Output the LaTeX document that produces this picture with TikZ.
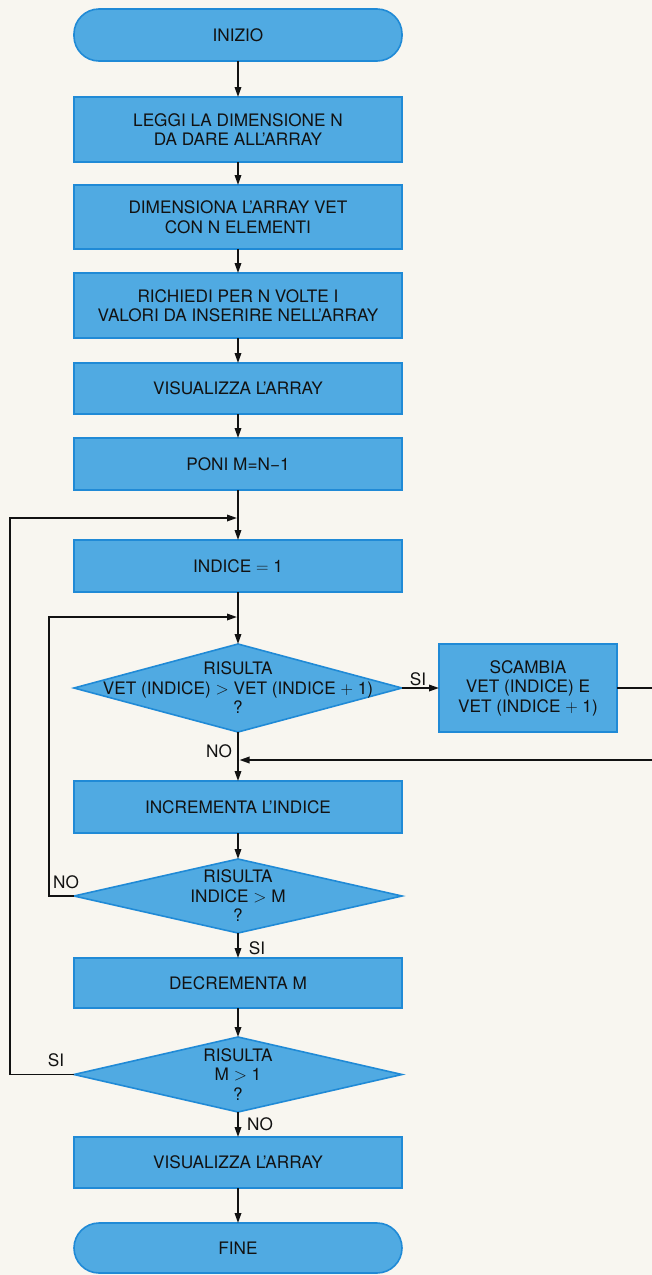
\documentclass[tikz,border=0pt]{standalone}
\usepackage{fontspec}
\setmainfont{TeX Gyre Heros}
\usetikzlibrary{shapes.geometric,arrows.meta}
\definecolor{paper}{RGB}{248,246,240}
\definecolor{boxfill}{RGB}{80,170,226}
\definecolor{boxline}{RGB}{32,138,214}
\definecolor{ink}{RGB}{18,18,18}
\begin{document}
\begin{tikzpicture}[x=1pt,y=-1pt,
  every node/.style={font=\fontsize{17.2}{19.5}\selectfont, text=ink},
  proc/.style={draw=boxline, fill=boxfill, line width=1.6pt, minimum width=328pt, inner sep=0pt, outer sep=0pt, align=center},
  term/.style={proc, rounded corners=25pt},
  dia/.style={diamond, draw=boxline, fill=boxfill, line width=1.6pt, minimum width=328pt, inner sep=0pt, outer sep=0pt},
  conn/.style={draw=ink, line width=1.7pt},
  arr/.style={conn, -{Triangle[length=10pt,width=6.5pt]}},
  lab/.style={inner sep=0pt, align=center}
]
\useasboundingbox (0,0) rectangle (652,1275);
\clip (0,0) rectangle (652,1275);
\fill[paper] (0,0) rectangle (652,1275);

% nodes
\node[term, minimum height=52pt] (start) at (238,35) {INIZIO};
\node[proc, minimum height=65pt] (leggi) at (238,129.5) {LEGGI LA DIMENSIONE N\\DA DARE ALL’ARRAY};
\node[proc, minimum height=64pt] (dim) at (238,217) {DIMENSIONA L’ARRAY VET\\CON N ELEMENTI};
\node[proc, minimum height=65pt] (rich) at (238,305.5) {RICHIEDI PER N VOLTE I\\VALORI DA INSERIRE NELL’ARRAY};
\node[proc, minimum height=51pt] (vis1) at (238,388.5) {VISUALIZZA L’ARRAY};
\node[proc, minimum height=52pt] (poni) at (238,464) {PONI M=N\char"2212 1};
\node[proc, minimum height=52pt] (ind) at (238,566) {INDICE $=$ 1};
\node[dia, minimum height=88pt, label={[lab]center:RISULTA\\VET (INDICE) $>$ VET (INDICE $+$ 1)\\?}] (d1) at (238,688) {};
\node[proc, minimum width=178pt, minimum height=88pt] (sc) at (528,688) {SCAMBIA\\VET (INDICE) E\\VET (INDICE $+$ 1)};
\node[proc, minimum height=52pt] (inc) at (238,807) {INCREMENTA L’INDICE};
\node[dia, minimum height=74pt, label={[lab]center:RISULTA\\INDICE $>$ M\\?}] (d2) at (238,896) {};
\node[proc, minimum height=50pt] (dec) at (238,983) {DECREMENTA M};
\node[dia, minimum height=75pt, label={[lab]center:RISULTA\\M $>$ 1\\?}] (d3) at (238,1074.5) {};
\node[proc, minimum height=51pt] (vis2) at (238,1162.5) {VISUALIZZA L’ARRAY};
\node[term, minimum height=50pt] (fine) at (238,1248) {FINE};

% branch labels
\node[lab] (siA) at (418,679) {SI};
\node[lab] (noA) at (219,751) {NO};
\node[lab] (noB) at (66,882) {NO};
\node[lab] (siB) at (257,948) {SI};
\node[lab] (siC) at (56,1060) {SI};
\node[lab] (noC) at (260,1124) {NO};

% main flow
\draw[arr] (start) -- (leggi);
\draw[arr] (leggi) -- (dim);
\draw[arr] (dim) -- (rich);
\draw[arr] (rich) -- (vis1);
\draw[arr] (vis1) -- (poni);
\draw[arr] (poni) -- (ind);
\draw[arr] (ind) -- (d1);
\draw[arr] (d1) -- (inc);
\draw[arr] (inc) -- (d2);
\draw[arr] (d2) -- (dec);
\draw[arr] (dec) -- (d3);
\draw[arr] (d3) -- (vis2);
\draw[arr] (vis2) -- (fine);

% swap branch
\draw[arr] (d1.east) -- (d1.east -| sc.west);
\coordinate (rOut) at (664,760);
\coordinate (jSwap) at (239.5,760);
\draw[arr] (sc.east) -| (rOut) -- (jSwap);

% inner loop (INDICE > M ? NO)
\coordinate (iCorner) at (49,617);
\coordinate (jInner) at (237,617);
\draw[arr] (d2.west) -| (iCorner) -- (jInner);

% outer loop (M > 1 ? SI)
\coordinate (oCorner) at (10,518);
\coordinate (jOuter) at (237,518);
\draw[arr] (d3.west) -| (oCorner) -- (jOuter);
\end{tikzpicture}
\end{document}
